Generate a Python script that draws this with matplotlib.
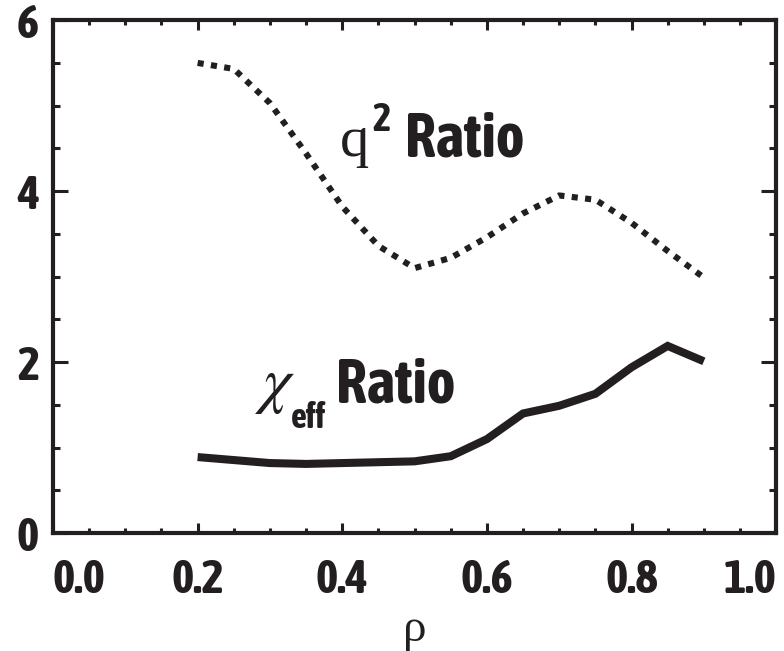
import matplotlib
matplotlib.use('Agg')
import matplotlib.pyplot as plt
from matplotlib import font_manager
from matplotlib.ticker import MultipleLocator

# data
rho = [0.2, 0.25, 0.3, 0.35, 0.4, 0.45, 0.5, 0.55, 0.6, 0.65, 0.7, 0.75, 0.8, 0.85, 0.9]
q2_ratio = [5.50, 5.43, 5.03, 4.44, 3.82, 3.36, 3.10, 3.22, 3.46, 3.74, 3.95, 3.90, 3.63, 3.30, 2.99]

rho_chi = [0.2, 0.3, 0.35, 0.5, 0.55, 0.6, 0.65, 0.7, 0.75, 0.8, 0.85, 0.9]
chi_ratio = [0.89, 0.82, 0.81, 0.84, 0.90, 1.10, 1.40, 1.49, 1.63, 1.94, 2.19, 2.01]

xticks = [0.0, 0.2, 0.4, 0.6, 0.8, 1.0]
yticks = [0, 2, 4, 6]

# condensed bold sans, closest thing to Helvetica Condensed Bold
bold_names = {f.name for f in font_manager.fontManager.ttflist if f.weight in (700, 'bold')}
narrow = next((n for n in ['Liberation Sans Narrow', 'Asap Condensed', 'Barlow Condensed']
               if n in bold_names), 'Liberation Sans')
serif = 'Liberation Serif'

ink = '#231f20'
fig = plt.figure(figsize=(7.84, 6.51), dpi=100)
ax = fig.add_axes([0.0676, 0.181, 0.9224, 0.788])

ax.plot(rho, q2_ratio, color=ink, lw=4.4, dashes=(1.0, 1.2),
        dash_capstyle='butt')
ax.plot(rho_chi, chi_ratio, color=ink, lw=5.8, solid_capstyle='butt',
        solid_joinstyle='miter')

ax.set_xlim(0, 1.0)
ax.set_ylim(0, 6)
ax.set_xticks(xticks)
ax.set_xticklabels([f'{v:.1f}' for v in xticks])
ax.set_yticks(yticks)
ax.set_yticklabels([str(v) for v in yticks])
ax.xaxis.set_minor_locator(MultipleLocator(0.05))
ax.yaxis.set_minor_locator(MultipleLocator(0.5))

ax.tick_params(which='both', direction='in', top=True, right=True,
               width=2.2, color=ink)
ax.tick_params(axis='x', which='major', length=7, pad=17)
ax.tick_params(axis='x', which='minor', length=3.5)
ax.tick_params(axis='y', which='major', length=10.5, pad=10)
ax.tick_params(axis='y', which='minor', length=5)
for lab in ax.get_xticklabels() + ax.get_yticklabels():
    lab.set_fontfamily(narrow)
    lab.set_fontweight('bold')
    lab.set_fontsize(34)
    lab.set_color(ink)
xl = ax.get_xticklabels()
xl[0].set_horizontalalignment('left')
xl[-1].set_horizontalalignment('right')
for sp in ax.spines.values():
    sp.set_linewidth(3)
    sp.set_color(ink)

ax.set_xlabel('ρ', family=serif, fontsize=34, color=ink, labelpad=4)

# q^2 Ratio label, built from pieces
ax.text(0.397, 4.41, 'q', family=serif, fontsize=42, color=ink)
ax.text(0.441, 4.70, '2', family=narrow, fontweight='bold', fontsize=28, color=ink)
ax.text(0.487, 4.41, 'Ratio', family=narrow, fontweight='bold', fontsize=44, color=ink)

# chi_eff Ratio label
ax.text(0.280, 1.55, r'$\chi$', math_fontfamily='stix', fontsize=46, color=ink)
ax.text(0.329, 1.225, 'eff', family=narrow, fontweight='bold', fontsize=25, color=ink)
ax.text(0.392, 1.53, 'Ratio', family=narrow, fontweight='bold', fontsize=44, color=ink)

fig.savefig('out.png', dpi=100, facecolor='white')
